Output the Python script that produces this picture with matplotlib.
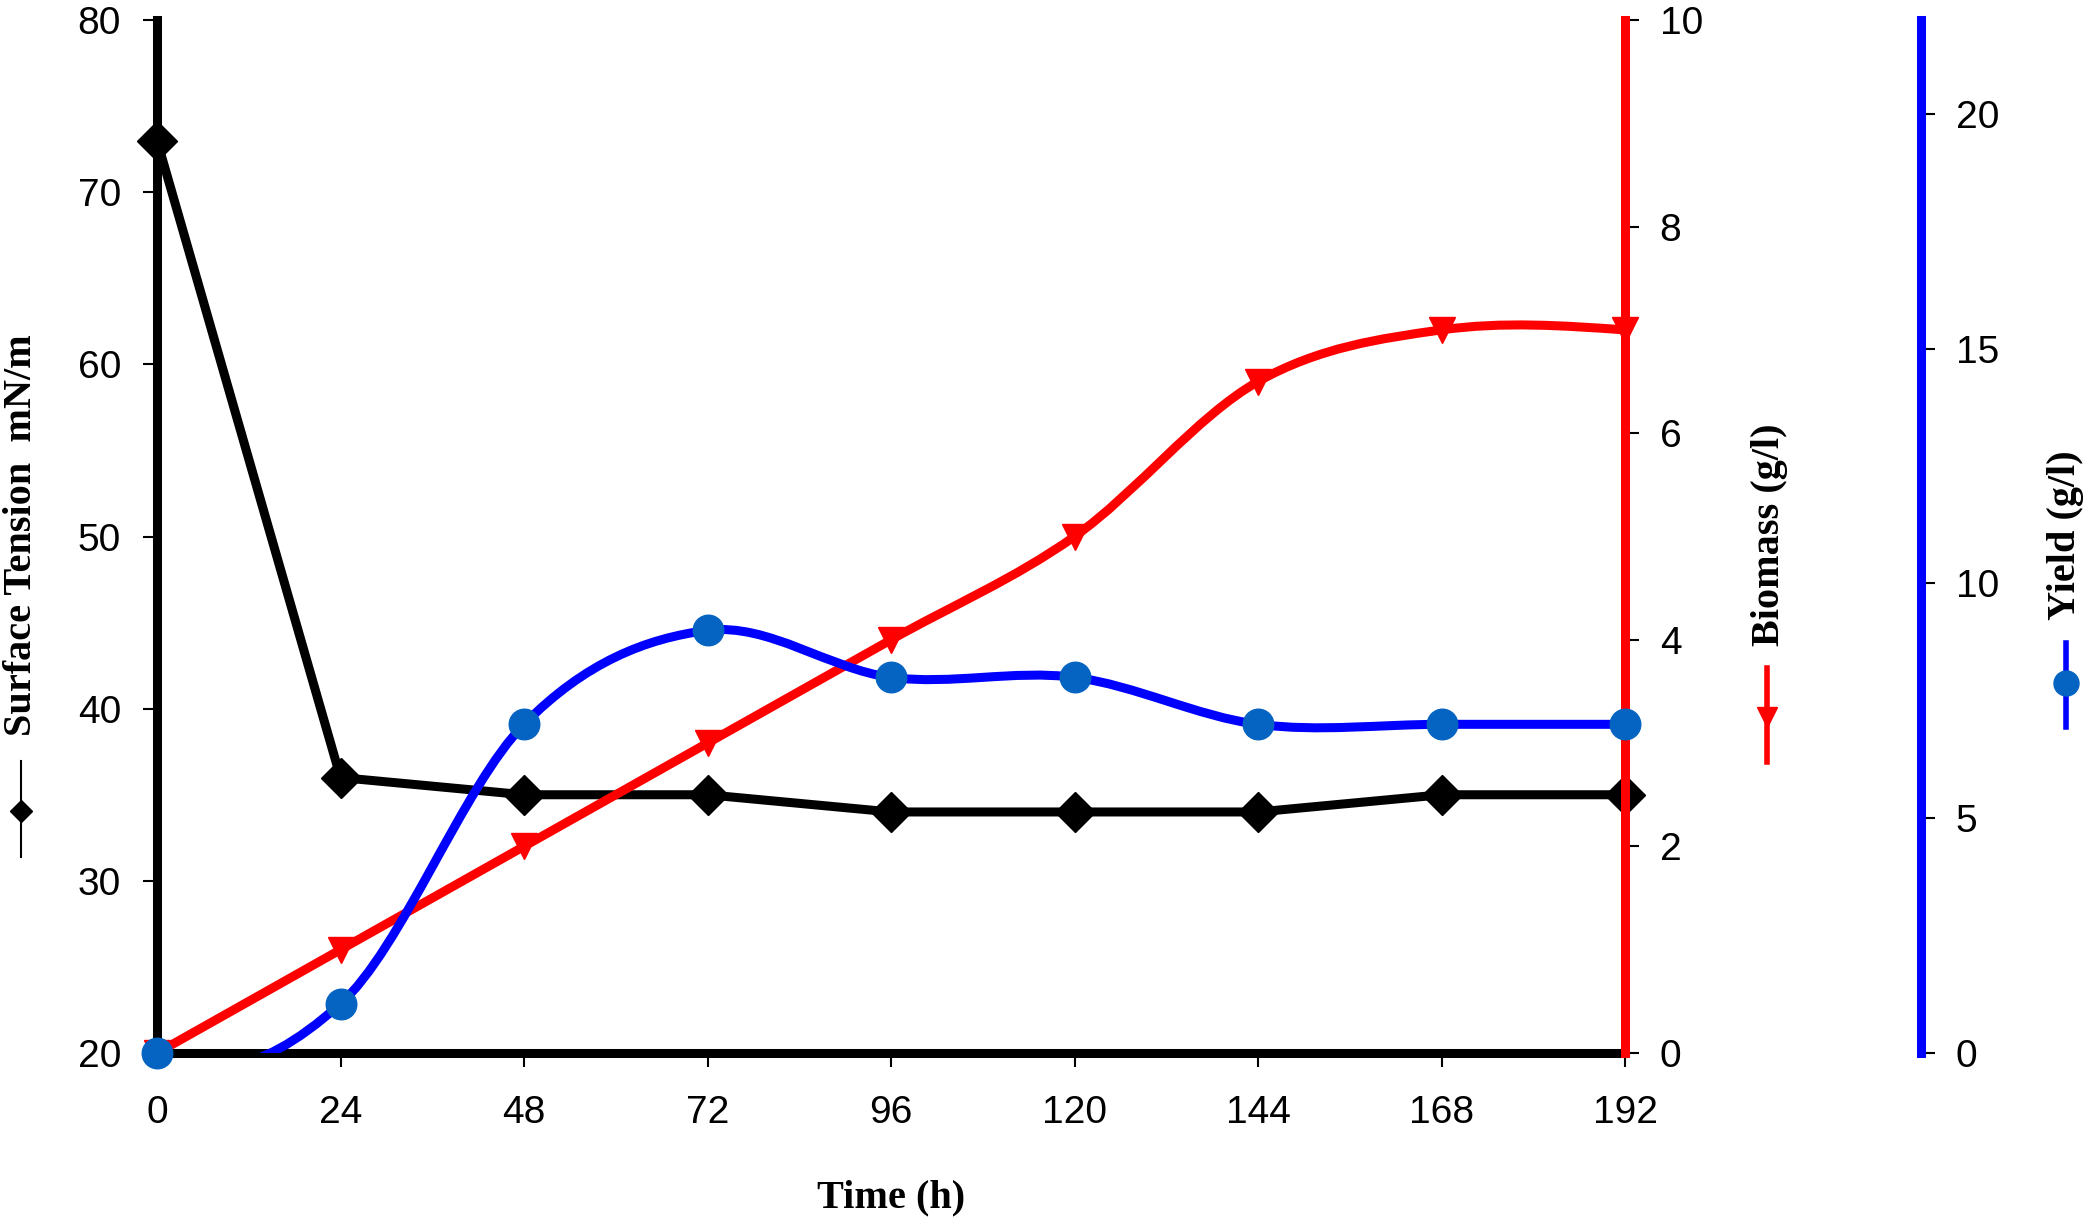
import numpy as np
import matplotlib
matplotlib.use("Agg")
import matplotlib.pyplot as plt
from matplotlib.path import Path
from matplotlib.patches import PathPatch
from matplotlib.lines import Line2D

# data
time_h = [0, 24, 48, 72, 96, 120, 144, 168, 192]
surface_tension = [73, 36, 35, 35, 34, 34, 34, 35, 35]
biomass = [0, 1.0, 2.0, 3.0, 4.0, 5.0, 6.5, 7.0, 7.0]
yield_gl = [0, 1.05, 7.0, 9.0, 8.0, 8.0, 7.0, 7.0, 7.0]

x_ticks = [0, 24, 48, 72, 96, 120, 144, 168, 192]
st_ticks = [20, 30, 40, 50, 60, 70, 80]
bio_ticks = [0, 2, 4, 6, 8, 10]
yield_ticks = [0, 5, 10, 15, 20]

W, H = 2091, 1220
TICK_FONT = "Liberation Sans"
LABEL_FONT = "Liberation Serif"
MARKER_BLUE = "#0563C1"
LW = 6.5


def smooth_path(xs, ys):
    # excel-like smoothed line: cubic bezier segments through the points
    p = np.column_stack([xs, ys]).astype(float)
    n = len(p)
    verts = [p[0]]
    codes = [Path.MOVETO]
    for i in range(n - 1):
        a, b = p[i], p[i + 1]
        if i == 0:
            c2 = b - (p[i + 2] - a) / 4
            c1 = (a + c2) / 2
        elif i == n - 2:
            c1 = a + (b - p[i - 1]) / 6
            c2 = (b + c1) / 2
        else:
            c1 = a + (b - p[i - 1]) / 6
            c2 = b - (p[i + 2] - a) / 6
        verts += [c1, c2, b]
        codes += [Path.CURVE4] * 3
    return Path(np.array(verts), codes)


def fx(px):
    return px / W


def fy(py):
    return 1 - py / H


fig = plt.figure(figsize=(W / 100, H / 100), dpi=100)
ax = fig.add_axes([fx(157), fy(1053), (1625 - 157) / W, (1053 - 20) / H])
ax2 = ax.twinx()
ax3 = ax.twinx()

# surface tension (host axis)
ax.plot(time_h, surface_tension, color="black", lw=LW, marker="D", ms=20,
        clip_on=False, zorder=3)
ax.set_xlim(0, 192)
ax.set_ylim(20, 80)
ax.set_xticks(x_ticks)
ax.set_yticks(st_ticks)
for s in ["top", "right"]:
    ax.spines[s].set_visible(False)
for s in ["left", "bottom"]:
    ax.spines[s].set_linewidth(6.5)
    ax.spines[s].set_color("black")
ax.tick_params(axis="y", direction="out", length=10, width=1.5, pad=16,
               labelsize=28)
ax.tick_params(axis="x", direction="out", length=10, width=1.5, pad=20,
               labelsize=28)

# biomass
ax2.add_patch(PathPatch(smooth_path(time_h, biomass), fill=False,
                        edgecolor="#FF0000", lw=LW, capstyle="butt"))
ax2.plot(time_h, biomass, linestyle="none", marker="v", ms=19,
         color="#FF0000", clip_on=False, zorder=3)
ax2.set_ylim(0, 10)
ax2.set_yticks(bio_ticks)
for s in ["top", "left", "bottom"]:
    ax2.spines[s].set_visible(False)
ax2.spines["right"].set_color("#FF0000")
ax2.spines["right"].set_linewidth(6.5)
ax2.tick_params(axis="y", direction="out", length=10, width=1.5, pad=15,
                labelsize=28, color="black")

# yield
ax3.add_patch(PathPatch(smooth_path(time_h, yield_gl), fill=False,
                        edgecolor="#0000FF", lw=LW, capstyle="butt"))
ax3.plot(time_h, yield_gl, linestyle="none", marker="o", ms=22,
         color=MARKER_BLUE, clip_on=False, zorder=4)
ax3.set_ylim(0, 22)
ax3.set_yticks(yield_ticks)
for s in ["top", "left", "bottom"]:
    ax3.spines[s].set_visible(False)
ax3.spines["right"].set_position(("axes", (1921 - 157) / (1625 - 157)))
ax3.spines["right"].set_color("#0000FF")
ax3.spines["right"].set_linewidth(6.5)
ax3.tick_params(axis="y", direction="out", length=10, width=1.5, pad=15,
                labelsize=28, color="black")

for a in [ax, ax2, ax3]:
    for lab in a.get_xticklabels() + a.get_yticklabels():
        lab.set_fontfamily(TICK_FONT)

# axis titles with their little legend keys
lab_kw = dict(fontfamily=LABEL_FONT, fontweight="bold", fontsize=29,
              rotation=90, ha="center", va="center")
fig.text(fx(891), fy(1207), "Time (h)", fontfamily=LABEL_FONT,
         fontweight="bold", fontsize=29, ha="center", va="baseline")
fig.text(fx(22), fy(535), "Surface Tension  mN/m", **lab_kw)
fig.text(fx(1769), fy(535), "Biomass (g/l)", **lab_kw)
fig.text(fx(2066), fy(535), "Yield (g/l)", **lab_kw)

keys = [
    (21, 761, 857, 811, "black", 1.5, "D", 11, "black"),
    (1767, 668, 762, 717, "#FF0000", 4, "v", 14, "#FF0000"),
    (2066, 643, 727, 683, "#0000FF", 4, "o", 18, MARKER_BLUE),
]
for x, y1, y2, ym, lc, lw, mk, ms, mc in keys:
    fig.add_artist(Line2D([fx(x), fx(x)], [fy(y1), fy(y2)], color=lc, lw=lw,
                          transform=fig.transFigure))
    fig.add_artist(Line2D([fx(x)], [fy(ym)], marker=mk, ms=ms, color=mc,
                          linestyle="none", transform=fig.transFigure))

fig.savefig("out.png", dpi=100)
